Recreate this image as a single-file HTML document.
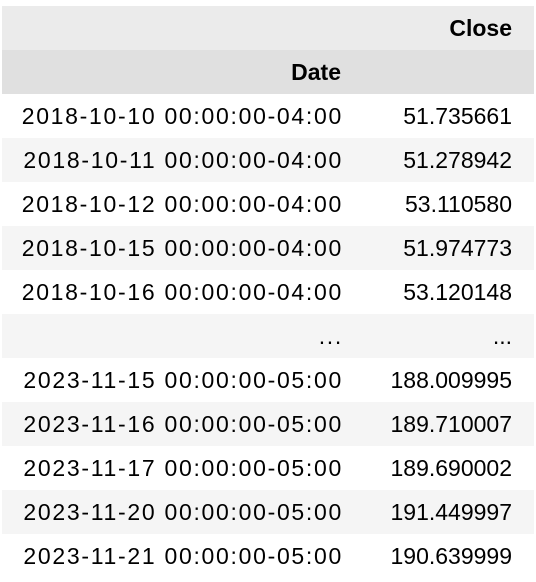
<!DOCTYPE html>
<html><head><meta charset="utf-8"><style>
body{margin:0;background:#fff;width:536px;height:582px;overflow:hidden;font-family:"Liberation Sans",Arial,sans-serif;}
table{position:absolute;left:2px;top:6px;width:532px;border-collapse:collapse;font-size:23px;color:#000;table-layout:fixed;}
td,th{height:44px;padding:0 22px 0 0;text-align:right;white-space:nowrap;line-height:44px;overflow:visible;}
th{font-weight:bold;}
col.a{width:361px}
col.b{width:171px}
td.i{letter-spacing:1.7px;padding-right:20px}
tr.h1{background:#ebebeb}
tr.h2{background:#e0e0e0}
tbody tr:nth-child(even){background:#f5f5f5}
</style></head><body>
<table>
<colgroup><col class="a"><col class="b"></colgroup>
<thead>
<tr class="h1"><th></th><th>Close</th></tr>
<tr class="h2"><th>Date</th><th></th></tr>
</thead>
<tbody>
<tr><td class="i">2018-10-10 00:00:00-04:00</td><td>51.735661</td></tr>
<tr><td class="i">2018-10-11 00:00:00-04:00</td><td>51.278942</td></tr>
<tr><td class="i">2018-10-12 00:00:00-04:00</td><td>53.110580</td></tr>
<tr><td class="i">2018-10-15 00:00:00-04:00</td><td>51.974773</td></tr>
<tr><td class="i">2018-10-16 00:00:00-04:00</td><td>53.120148</td></tr>
<tr><td class="i">...</td><td>...</td></tr>
<tr><td class="i">2023-11-15 00:00:00-05:00</td><td>188.009995</td></tr>
<tr><td class="i">2023-11-16 00:00:00-05:00</td><td>189.710007</td></tr>
<tr><td class="i">2023-11-17 00:00:00-05:00</td><td>189.690002</td></tr>
<tr><td class="i">2023-11-20 00:00:00-05:00</td><td>191.449997</td></tr>
<tr><td class="i">2023-11-21 00:00:00-05:00</td><td>190.639999</td></tr>
</tbody>
</table>
</body></html>
